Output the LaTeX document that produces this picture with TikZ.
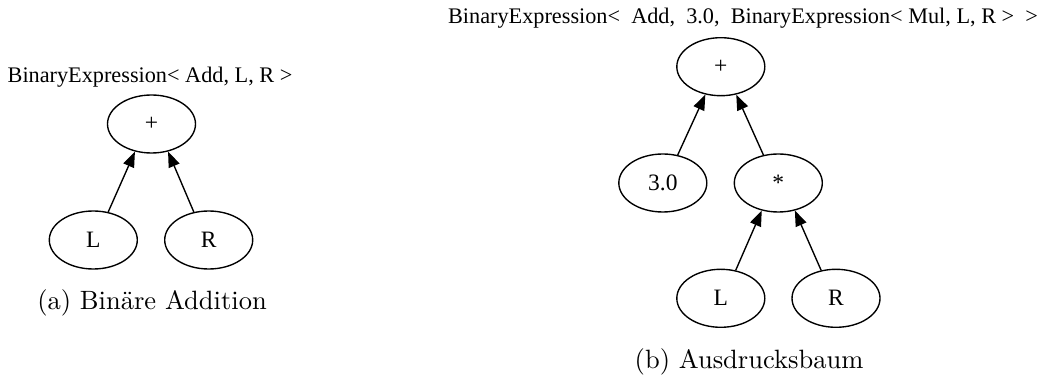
\documentclass[tikz,border=0pt]{standalone}
\usepackage{fontspec}
\newfontfamily\gvfont{Liberation Serif}
\usetikzlibrary{shapes.geometric,arrows.meta}
\tikzset{
  tnode/.style={ellipse, draw, line width=0.55pt, minimum width=35.2pt, minimum height=23.2pt, inner sep=0pt, font=\gvfont\fontsize{9.4}{11}\selectfont},
  tlabel/.style={inner sep=0pt, font=\gvfont\fontsize{8.9}{11}\selectfont},
  capt/.style={inner sep=0pt, font=\fontsize{10.6}{13}\selectfont},
  edge/.style={line width=0.55pt, -{Triangle[length=6.2pt,width=4.6pt]}}
}
\begin{document}
\begin{tikzpicture}[x=0.4pt,y=-0.4pt]
\useasboundingbox (0,0) rectangle (1043,378);
% (a)
\node[tlabel] (ta) at (150,77) {BinaryExpression< Add, L, R >};
\node[tnode] (ap) at (151.5,124) {+};
\node[tnode] (aL) at (93.3,240) {L};
\node[tnode] (aR) at (208.7,240) {R};
\draw[edge] (aL.62) -- (ap.-121);
\draw[edge] (aR.118) -- (ap.-59);
\node[capt] (ca) at (152,303) {(a) Binäre Addition};
% (b)
\node[tlabel] (tb) at (743,18) {BinaryExpression<\ \ Add,\ \ 3.0,\ \ BinaryExpression< Mul, L, R >\ \ >};
\node[tnode] (bp) at (720.8,66.7) {+};
\node[tnode] (b3) at (662.8,183) {3.0};
\node[tnode] (bm) at (778.3,183) {*};
\node[tnode] (bL) at (720.8,298.3) {L};
\node[tnode] (bR) at (836,298.3) {R};
\draw[edge] (b3.62) -- (bp.-119);
\draw[edge] (bm.118) -- (bp.-61);
\draw[edge] (bL.62) -- (bm.-121);
\draw[edge] (bR.118) -- (bm.-59);
\node[capt] (cb) at (749,362) {(b) Ausdrucksbaum};
\end{tikzpicture}
\end{document}
